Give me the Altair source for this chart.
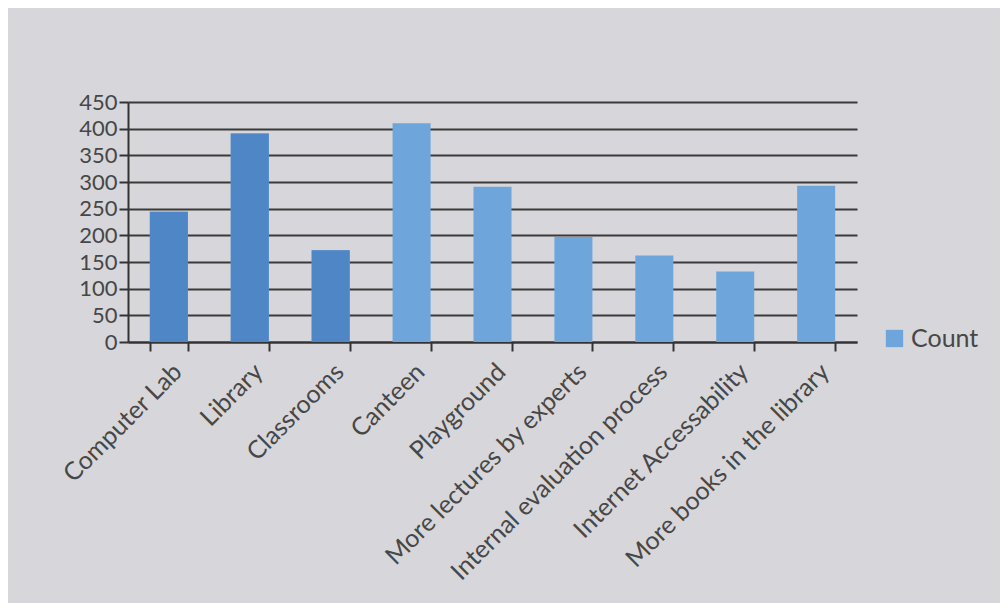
import altair as alt
import pandas as pd

categories = ["Computer Lab", "Library", "Classrooms", "Canteen", "Playground",
              "More lectures by experts", "Internal evaluation process",
              "Internet Accessability", "More books in the library"]
counts = [244, 391, 172, 410, 291, 197, 162, 132, 293]
series = "Count"

df = pd.DataFrame({"category": categories, "count": counts, "series": [series] * len(categories)})
df["idx"] = range(len(df))

FONT = "Lato"
TXT = "#474747"

x_enc = alt.X("category:N", sort=categories, title=None,
              scale=alt.Scale(paddingInner=0.53, paddingOuter=0.27),
              axis=alt.Axis(labelAngle=-45, labelAlign="right", labelBaseline="top",
                            labelFontSize=25, labelFont=FONT, labelColor=TXT, labelPadding=8,
                            tickBand="extent", tickSize=9, tickColor="#333", tickWidth=2,
                            domainColor="#333", domainWidth=2, grid=False, labelLimit=400,
                            labelOverlap=False))
y_enc = alt.Y("count:Q", title=None,
              scale=alt.Scale(domain=[0, 450], nice=False),
              axis=alt.Axis(values=list(range(0, 451, 50)), labelFontSize=22, labelFont=FONT,
                            labelColor=TXT, labelPadding=2, tickSize=9, tickColor="#333",
                            tickWidth=2, domainColor="#333", domainWidth=2,
                            gridColor="#3a3a3a", gridWidth=2, labelOverlap=False))

bars = alt.Chart(df).mark_bar().encode(
    x=x_enc, y=y_enc,
    color=alt.Color("series:N", title=None,
                    scale=alt.Scale(range=["#6ea6db"]),
                    legend=alt.Legend(orient="none", legendX=754, legendY=224,
                                      symbolType="square", symbolSize=300,
                                      symbolStrokeWidth=0, labelFontSize=25,
                                      labelFont=FONT, labelColor=TXT))
)

dark = alt.Chart(df).transform_filter("datum.idx < 3").mark_bar(color="#4f86c6").encode(
    x=x_enc, y=y_enc)

chart = alt.layer(bars, dark).properties(
    width=729, height=240,
    background="#d7d6da",
    autosize=alt.AutoSizeParams(type="none"),
    padding={"left": 120, "top": 94, "right": 143, "bottom": 261},
).configure_view(stroke=None)

chart.save("out.html", embed_options={"renderer": "svg", "actions": False})
